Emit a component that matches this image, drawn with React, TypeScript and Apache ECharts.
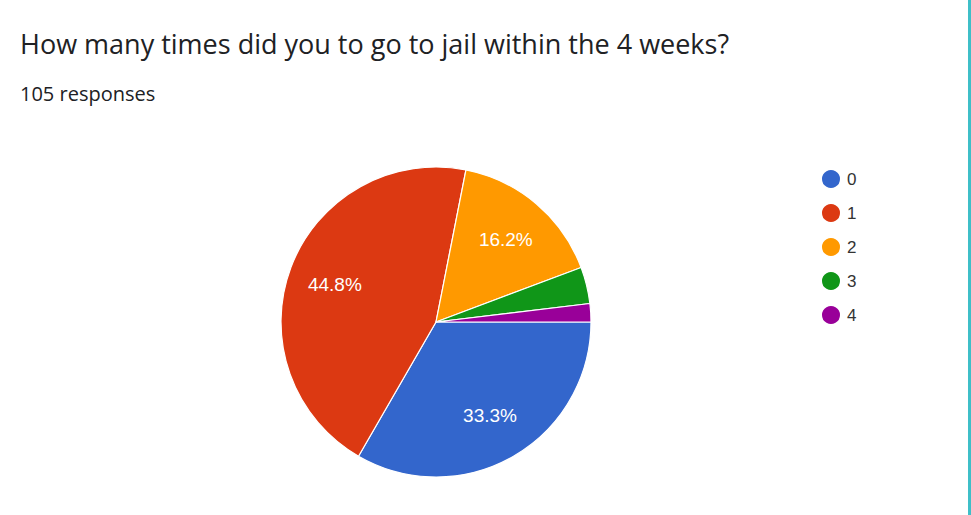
import React, { useEffect, useRef } from "react";
import * as echarts from "echarts";

const titleText = "How many times did you to go to jail within the 4 weeks?";
const subtitleText = "105 responses";
const categories = ["0", "1", "2", "3", "4"];
const counts = [35, 47, 17, 4, 2];
const colors = ["#3366cc", "#dc3912", "#ff9900", "#109618", "#990099"];

export default function App() {
  const ref = useRef<HTMLDivElement>(null);
  useEffect(() => {
    if (!ref.current) return;
    const chart = echarts.init(ref.current, null, { renderer: "svg" });
    const total = counts.reduce((a, b) => a + b, 0);
    const data = categories.map((c, i) => ({
      name: c,
      value: counts[i],
      itemStyle: { color: colors[i] },
    }));
    chart.setOption({
      animation: false,
      backgroundColor: "#ffffff",
      title: [
        {
          text: titleText,
          left: 20,
          top: 30,
          padding: 0,
          textStyle: {
            fontFamily: "'Open Sans', Roboto, Arial, sans-serif",
            fontSize: 27,
            fontWeight: "normal",
            color: "#202124",
          },
        },
        {
          text: subtitleText,
          left: 20,
          top: 83,
          padding: 0,
          textStyle: {
            fontFamily: "'Open Sans', Roboto, Arial, sans-serif",
            fontSize: 20,
            fontWeight: "normal",
            color: "#202124",
          },
        },
      ],
      legend: {
        orient: "vertical",
        left: 820,
        top: 168,
        padding: 0,
        icon: "circle",
        itemWidth: 20,
        itemHeight: 20,
        itemGap: 12,
        data: categories,
        textStyle: {
          fontFamily: "Arial, 'Liberation Sans', sans-serif",
          fontSize: 17,
          color: "#333333",
          padding: [0, 0, 0, 1],
        },
      },
      graphic: [
        {
          type: "rect",
          shape: { x: 968, y: 0, width: 3, height: 515 },
          style: { fill: "#3fbfc8" },
          silent: true,
        },
      ],
      series: [
        {
          type: "pie",
          center: [436, 322],
          radius: [0, 155],
          startAngle: 0,
          clockwise: true,
          avoidLabelOverlap: false,
          label: { show: false },
          labelLine: { show: false },
          itemStyle: { borderColor: "#ffffff", borderWidth: 1.2 },
          emphasis: { disabled: true },
          data,
        },
        {
          type: "pie",
          center: [436, 322],
          radius: [55, 155],
          startAngle: 0,
          clockwise: true,
          silent: true,
          avoidLabelOverlap: false,
          legendHoverLink: false,
          itemStyle: { color: "rgba(0,0,0,0)", borderWidth: 0 },
          labelLine: { show: false },
          label: {
            show: true,
            position: "inside",
            color: "#ffffff",
            fontFamily: "Arial, 'Liberation Sans', sans-serif",
            fontSize: 19,
            padding: [7, 0, 0, 0],
            formatter: (p: any) => {
              const pct = (p.value / total) * 100;
              return pct >= 5 ? pct.toFixed(1) + "%" : "";
            },
          },
          emphasis: { disabled: true },
          data: categories.map((c, i) => ({ name: c + " ", value: counts[i] })),
        },
      ],
    });
    return () => chart.dispose();
  }, []);
  return (
    <div
      ref={ref}
      style={{ position: "fixed", left: 0, top: 0, width: 971, height: 515 }}
    />
  );
}
